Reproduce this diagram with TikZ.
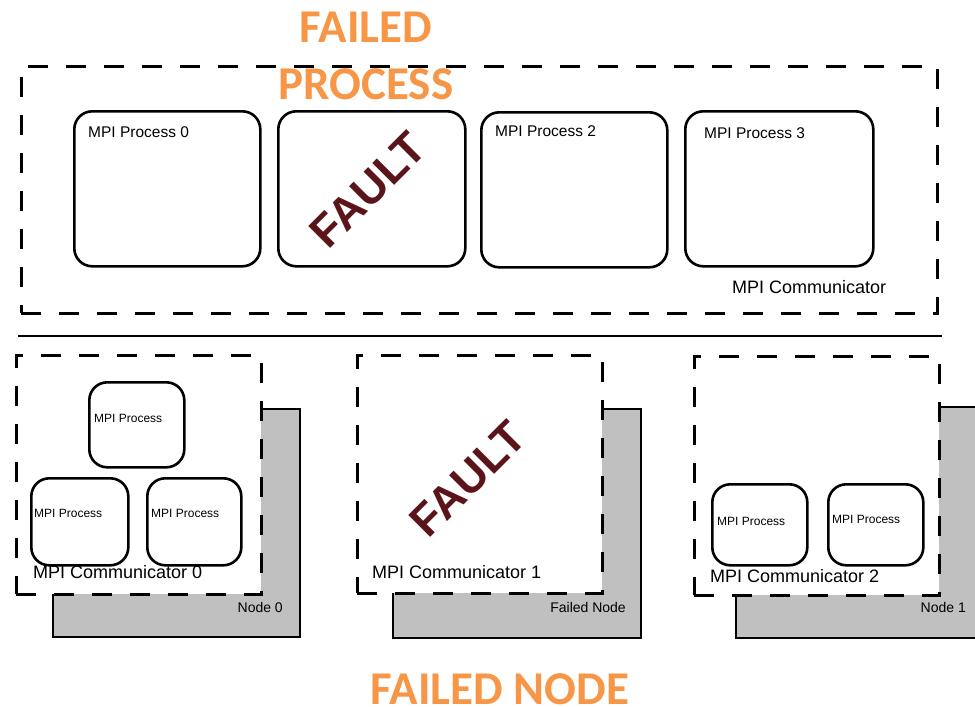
\documentclass[tikz,border=0pt]{standalone}
\usepackage{fontspec}
\setmainfont{Liberation Sans}
\newfontfamily\calfont{Carlito}
\definecolor{mpiorange}{HTML}{F79646}
\definecolor{faultred}{HTML}{5B1419}
\definecolor{nodegrey}{HTML}{C0C0C0}
\usetikzlibrary{positioning}

\begin{document}
\begin{tikzpicture}[x=1pt, y=-1pt,
  comm/.style={draw, line width=2.8pt, dash pattern=on 20pt off 18pt,
    fill=white, anchor=north west, inner sep=0pt},
  proc/.style={draw, line width=2.6pt, rounded corners=18pt, fill=white,
    anchor=north west, inner sep=0pt},
  hw/.style={draw, line width=2.2pt, fill=nodegrey, anchor=north west, inner sep=0pt},
  plbl/.style={anchor=base west, inner sep=0pt, font=\fontsize{15.5}{18}\selectfont},
  slbl/.style={anchor=base west, inner sep=0pt, font=\fontsize{12}{14}\selectfont},
  clbl/.style={anchor=base west, inner sep=0pt, font=\fontsize{18}{21}\selectfont},
  hwlbl/.style={anchor=base east, inner sep=0pt, font=\fontsize{14}{16}\selectfont},
  fault/.style={rotate=45, inner sep=0pt, text=faultred,
    font=\fontsize{45}{50}\selectfont\bfseries},
  warn/.style={anchor=base, inner sep=0pt, text=mpiorange,
    font=\calfont\fontsize{47}{54}\selectfont\bfseries}]
\useasboundingbox (0,0) rectangle (975,707);

% upper half: one communicator, four processes
\node[comm, minimum width=916pt, minimum height=247pt] (world) at (20,65) {};
\node[proc, minimum width=186pt, minimum height=155pt] (p0) at (73,110) {};
\node[proc, minimum width=187pt, minimum height=155pt] (p1) at (277,110) {};
\node[proc, minimum width=186pt, minimum height=155pt] (p2) at (480,111) {};
\node[proc, minimum width=188pt, minimum height=155pt] (p3) at (684,110) {};
\node[plbl] (p0lbl) at (88,137) {MPI Process 0};
\node[plbl] (p2lbl) at (495,136) {MPI Process 2};
\node[plbl] (p3lbl) at (704,138) {MPI Process 3};
\node[fault] (fault1) at (368,190) {FAULT};
\node[clbl] (worldlbl) at (732,293) {MPI Communicator};

\coordinate (sepL) at (18,336);
\coordinate (sepR) at (942,336);
\draw[line width=2.4pt] (sepL) -- (sepR);

% lower half: three hardware nodes
\node[hw, minimum width=247pt, minimum height=228pt] (hw0) at (52,408) {};
\node[hw, minimum width=248pt, minimum height=229pt] (hw1) at (392,408) {};
\node[hw, minimum width=250pt, minimum height=231pt] (hw2) at (735,406) {};

\node[comm, minimum width=245pt, minimum height=239pt] (c0) at (15,354) {};
\node[comm, minimum width=245pt, minimum height=238pt] (c1) at (356,354) {};
\node[comm, minimum width=245pt, minimum height=239pt] (c2) at (693,355) {};

\node[proc, minimum width=95pt, minimum height=85pt] (q0a) at (88,381) {};
\node[proc, minimum width=97pt, minimum height=87pt] (q0b) at (30,477) {};
\node[proc, minimum width=94pt, minimum height=87pt] (q0c) at (146,477) {};
\node[slbl] at (94,422) {MPI Process};
\node[slbl] at (34,517) {MPI Process};
\node[slbl] at (151,517) {MPI Process};

\node[fault] (fault2) at (468,479) {FAULT};

\node[proc, minimum width=95pt, minimum height=81pt] (q2a) at (711,483) {};
\node[proc, minimum width=95pt, minimum height=81pt] (q2b) at (827,483) {};
\node[slbl] at (717,525) {MPI Process};
\node[slbl] at (832,523) {MPI Process};

\node[clbl] (c0lbl) at (33,578) {MPI Communicator 0};
\node[clbl] (c1lbl) at (372,578) {MPI Communicator 1};
\node[clbl] (c2lbl) at (710,582) {MPI Communicator 2};

\node[hwlbl] (hw0lbl) at (283,612) {Node 0};
\node[hwlbl] (hw1lbl) at (626,612) {Failed Node};
\node[hwlbl] (hw2lbl) at (966,612) {Node 1};

% orange captions
\node[warn] (failproc) at (366,42) {FAILED};
\node[warn] (failproc2) at (366,99) {PROCESS};
\node[warn] (failnode) at (500,704) {FAILED NODE};
\end{tikzpicture}
\end{document}
